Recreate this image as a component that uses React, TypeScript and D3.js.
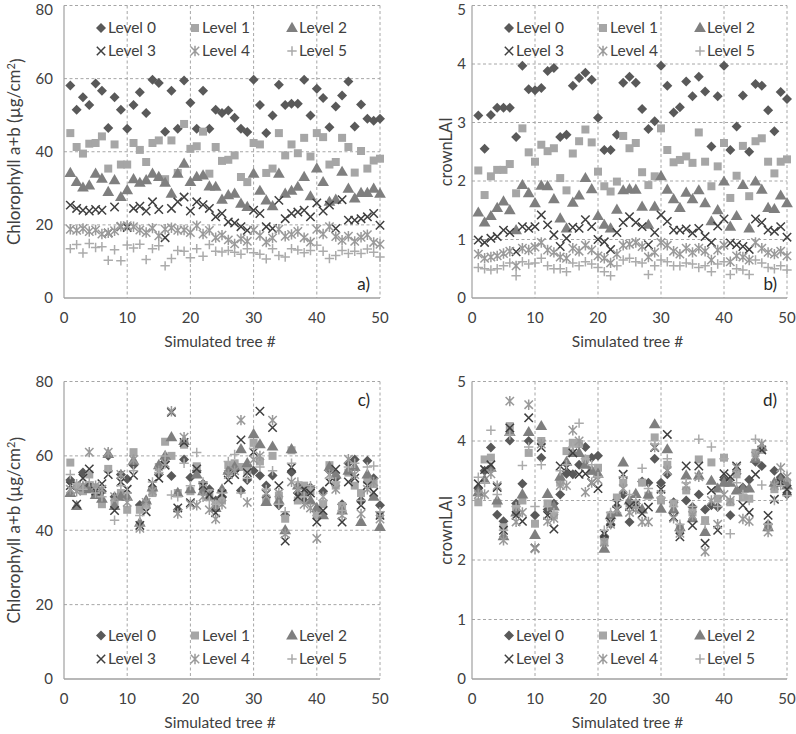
import React from 'react';
import * as d3 from 'd3';

// Simulated tree index, 1..50
const TREES = [
  1, 2, 3, 4, 5, 6, 7, 8, 9, 10, 11, 12, 13, 14, 15, 16, 17, 18, 19, 20, 21, 22, 23, 24, 25,
  26, 27, 28, 29, 30, 31, 32, 33, 34, 35, 36, 37, 38, 39, 40, 41, 42, 43, 44, 45, 46, 47, 48, 49, 50,
];
const LEVELS = ['Level 0', 'Level 1', 'Level 2', 'Level 3', 'Level 4', 'Level 5'];
const X_TICKS = [0, 10, 20, 30, 40, 50];
const CHL_TICKS = [0, 20, 40, 60, 80];
const LAI_TICKS = [0, 1, 2, 3, 4, 5];

// a) chlorophyll, per level
const A0 = [58.1, 51.5, 54.9, 52.8, 58.7, 56.7, 46.5, 54.9, 51.5, 46.3, 52.8, 56.3, 50.6, 59.7, 58.8, 45.5, 56.7, 46.3, 59.5, 53.4, 46.3, 56.7, 46.3, 51.5, 50.6, 51.3, 49.3, 46.3, 45.4, 59.7, 52.8, 45.1, 49.9, 58.3, 52.8, 53.1, 53.1, 59.7, 49.9, 57.2, 54.7, 46.7, 52.4, 55.4, 59.2, 46.9, 52.9, 49, 48.5, 49];
const A1 = [45.1, 41.3, 39.5, 42.2, 42.4, 44.2, 35.4, 42.0, 36.5, 36.5, 42.4, 40.5, 37.2, 42.4, 43.1, 32.5, 43.1, 34.2, 47.6, 40.8, 41.5, 45.5, 34, 41.3, 37.5, 37.8, 39, 33.1, 31.7, 42.4, 42, 34.2, 35.4, 45.1, 39, 42, 39.6, 43.8, 38.7, 45.1, 44, 36.5, 37.2, 43.8, 41.3, 34.3, 40.2, 35.4, 37.6, 38.1];
const A2 = [34.2, 31.7, 30.2, 30.8, 34, 32.6, 29, 32.2, 27.6, 29.5, 32.5, 31.5, 32.2, 34, 33.1, 31.5, 28.5, 34, 36.7, 31.7, 33.1, 33.5, 30.5, 30.4, 26.9, 28.1, 28.5, 25.8, 24.9, 34, 29.3, 26.7, 25.1, 34, 28.5, 29.3, 30.4, 33.1, 27.8, 35.4, 31.7, 26.3, 26.9, 34.5, 29.9, 27.2, 28.7, 28.7, 29.9, 28.5];
const A3 = [25.4, 24.5, 24, 23.8, 24.2, 24, 17.8, 24.9, 19.5, 19.3, 24.5, 25.1, 23.8, 26.3, 24.2, 16.5, 24.5, 26.3, 27.6, 23.8, 26.3, 25.5, 24.5, 22.2, 23.1, 20.8, 20.5, 19.5, 18.5, 24, 23.1, 19.5, 19, 26.7, 21.7, 23.1, 23.5, 24, 22.2, 26, 23.8, 25.4, 19, 26.9, 21.3, 21.3, 21.7, 22.2, 23.1, 19.9];
const A4 = [18.8, 18.5, 19, 18.2, 18.6, 17.5, 17.8, 18.4, 19.6, 19.8, 19.5, 18.6, 17.9, 19.1, 17, 18.8, 19.2, 18.5, 18.6, 17.9, 19.8, 17.5, 18.5, 16.5, 17.2, 15.9, 14.8, 16.2, 15.5, 18.6, 17.1, 15.3, 16.4, 18.8, 16.9, 17.4, 18.2, 16.5, 15.3, 18.8, 17.5, 19.5, 16.8, 15.8, 16.9, 15.5, 16.6, 17.3, 15.2, 14.7];
const A5 = [13.5, 14.6, 12.3, 14.9, 13.8, 14.0, 10.3, 13.2, 10.2, 14.5, 13.7, 14.7, 10.5, 13.5, 14.3, 8.8, 10.8, 13.0, 12.8, 11.0, 13.5, 11.4, 14.6, 12.8, 12.6, 13.0, 12.5, 12.0, 13.5, 12.4, 12.0, 10.7, 13.5, 11.6, 11.2, 13.5, 13.1, 12.4, 13.0, 14.4, 12.8, 10.8, 11.6, 13.0, 12.2, 12.8, 12.2, 13.4, 12.5, 11.2];

// b) crownLAI, per level
const B0 = [3.12, 2.55, 3.13, 3.25, 3.25, 3.25, 2.75, 3.97, 3.57, 3.55, 3.59, 3.88, 3.93, 2.75, 2.79, 3.63, 3.76, 3.85, 3.73, 3.08, 2.53, 2.53, 2.79, 3.68, 3.78, 3.68, 3.23, 2.89, 3.02, 3.97, 3.63, 3.17, 3.26, 3.7, 3.45, 3.78, 3.53, 2.59, 3.45, 3.97, 2.53, 2.93, 3.46, 2.5, 3.66, 3.63, 3.21, 2.85, 3.52, 3.4];
const B1 = [2.18, 1.76, 2.08, 2.19, 2.19, 2.29, 1.79, 2.9, 2.49, 2.33, 2.62, 2.51, 2.56, 2.05, 1.84, 2.47, 2.68, 2.88, 2.66, 2.16, 1.91, 1.82, 1.99, 2.77, 2.56, 2.65, 2.15, 1.93, 2.08, 2.9, 2.53, 2.32, 2.36, 2.42, 2.31, 2.83, 2.33, 1.91, 2.25, 2.65, 1.71, 2.09, 2.6, 1.74, 2.68, 2.73, 2.33, 2.13, 2.33, 2.37];
const B2 = [1.46, 1.29, 1.4, 1.54, 1.65, 1.5, 1.16, 1.93, 1.79, 1.62, 1.92, 1.91, 1.69, 1.36, 1.19, 1.63, 1.75, 2.05, 1.86, 1.4, 1.25, 1.19, 1.51, 1.84, 1.86, 1.85, 1.56, 1.25, 1.56, 2.08, 1.85, 1.69, 1.54, 1.8, 1.69, 1.84, 1.62, 1.31, 1.5, 1.99, 1.22, 1.4, 1.93, 1.19, 1.99, 1.85, 1.54, 1.52, 1.75, 1.62];
const B3 = [0.99, 0.95, 1.02, 1.05, 1.16, 1.12, 0.79, 1.22, 1.19, 1.22, 1.42, 1.25, 1.08, 0.88, 1.02, 1.21, 1.19, 1.34, 1.22, 1.0, 0.96, 0.83, 1.12, 1.29, 1.39, 1.29, 1.22, 0.91, 1.12, 1.42, 1.31, 1.16, 1.16, 1.18, 1.11, 1.19, 1.05, 0.95, 1.23, 1.35, 0.94, 0.91, 0.88, 0.83, 1.35, 1.29, 1.16, 1.14, 1.22, 1.04];
const B4 = [0.75, 0.68, 0.7, 0.72, 0.76, 0.8, 0.55, 0.85, 0.82, 0.87, 0.95, 0.82, 0.78, 0.7, 0.68, 0.85, 0.8, 0.9, 0.82, 0.72, 0.68, 0.6, 0.75, 0.9, 0.92, 0.95, 0.88, 0.7, 0.78, 0.95, 0.9, 0.8, 0.75, 0.85, 0.78, 0.85, 0.8, 0.65, 0.82, 0.9, 0.62, 0.72, 0.7, 0.65, 0.95, 0.85, 0.78, 0.75, 0.8, 0.72];
const B5 = [0.52, 0.5, 0.48, 0.5, 0.55, 0.6, 0.38, 0.62, 0.58, 0.6, 0.68, 0.55, 0.5, 0.5, 0.45, 0.6, 0.55, 0.62, 0.58, 0.52, 0.45, 0.38, 0.55, 0.65, 0.68, 0.62, 0.6, 0.4, 0.55, 0.65, 0.62, 0.55, 0.55, 0.6, 0.58, 0.52, 0.55, 0.45, 0.58, 0.62, 0.4, 0.5, 0.48, 0.4, 0.65, 0.6, 0.52, 0.5, 0.55, 0.48];

// c) chlorophyll, per level
const C0 = [53.5, 51.5, 55.5, 52, 51, 50.5, 60, 49, 55, 53.8, 57.5, 46.8, 47.5, 51, 55, 58.5, 54.6, 45.5, 59, 54.2, 56, 52.5, 51, 48, 49, 55.5, 56, 50.7, 53.5, 56, 54.7, 52, 54.7, 46.7, 44, 55.6, 50, 48, 51.5, 45, 50.5, 56, 54, 47, 58, 59, 48, 58.7, 54, 46.7];
const C1 = [58.2, 52, 50.5, 55, 51.5, 47, 56.5, 47.5, 50, 45.5, 61, 45.5, 47, 50, 57, 63.8, 60, 50, 63, 50.5, 57.2, 51.5, 50, 47, 48, 57.5, 58, 57, 56, 63.5, 58.5, 48.5, 60, 49.3, 43.1, 61.5, 48, 52, 50.5, 44, 47, 57.5, 52, 46.5, 55.5, 52, 50, 53.5, 52.4, 44];
const C2 = [50, 46.5, 51.5, 51, 49.5, 48.5, 60.5, 46.5, 49, 49, 58.7, 42, 48, 51.5, 57.5, 60, 65, 50, 64, 51, 55, 50.5, 49, 46, 51, 56, 57, 61.8, 58, 65.8, 63.1, 47.6, 62.5, 48, 40, 61.8, 52, 50, 48, 46, 44, 57, 55, 45.3, 56, 57, 42.2, 55, 49, 40.9];
const C3 = [52, 47, 54, 56.5, 50.5, 52.5, 55, 45.3, 53, 51, 54.8, 41.3, 45, 52.6, 54, 57.5, 71.7, 46, 63.6, 47.4, 56.5, 52, 49.5, 44.7, 49.8, 53.5, 55, 64.3, 55.5, 61, 72, 49.8, 67.6, 52, 37.1, 56.9, 49, 51, 50, 42.2, 45.3, 53, 56.4, 42.2, 53, 54, 46.7, 52, 50.2, 44];
const C4 = [51, 50.5, 52, 61, 52, 51, 61, 49, 55, 47.5, 59, 40.5, 47.5, 50.5, 56, 58, 72, 44.5, 65, 47, 46.7, 49, 45.5, 43, 47, 55, 56, 69.6, 47.5, 59, 60, 50, 69.6, 50, 39, 53, 51, 47, 46, 37.8, 49, 55, 51, 44, 59.1, 55, 44.4, 51, 53, 43];
const C5 = [55, 52.5, 51, 53, 50, 49, 56, 42.7, 52, 50, 56, 44, 46, 53, 55.5, 60, 49.5, 49, 58, 52, 60.9, 53, 48, 47, 50, 58.5, 60.4, 50, 54, 62, 57, 51, 56, 47, 45, 58, 53, 49, 52, 44, 48, 54, 53, 45.3, 57, 58, 48, 57, 57.3, 45];

// d) crownLAI, per level
const D0 = [3.2, 3.5, 3.89, 2.76, 2.65, 4.01, 2.95, 3.28, 4.0, 2.75, 3.72, 2.85, 2.95, 3.1, 3.45, 3.44, 3.6, 3.9, 3.72, 3.75, 2.4, 2.6, 2.9, 3.1, 2.64, 2.95, 3.32, 3.3, 3.7, 3.3, 3.44, 2.97, 2.5, 3.0, 2.89, 3.1, 2.85, 2.92, 2.89, 3.35, 2.75, 3.45, 3.22, 3.35, 3.65, 3.58, 2.6, 3.5, 3.39, 3.1];
const D1 = [2.97, 3.69, 3.72, 2.95, 2.55, 4.25, 2.86, 3.0, 3.8, 2.61, 4.0, 2.95, 2.75, 3.3, 3.83, 3.97, 3.95, 3.7, 3.5, 3.55, 2.3, 2.75, 3.05, 3.3, 2.95, 2.92, 3.3, 3.08, 4.06, 3.0, 3.6, 2.95, 2.53, 3.17, 2.8, 3.69, 2.67, 3.64, 3.03, 3.72, 2.97, 3.44, 3.05, 3.03, 3.8, 3.85, 2.55, 3.19, 3.3, 3.3];
const D2 = [3.14, 3.35, 3.55, 3.0, 2.4, 4.15, 2.8, 3.1, 4.15, 2.42, 4.25, 3.11, 2.9, 3.4, 3.65, 3.8, 3.8, 3.6, 3.5, 3.45, 2.19, 2.75, 2.8, 3.64, 3.0, 3.11, 2.85, 3.1, 4.28, 2.86, 3.86, 2.85, 2.55, 3.42, 2.7, 3.42, 2.47, 3.33, 3.2, 3.3, 3.3, 3.17, 3.2, 3.2, 3.7, 3.9, 2.55, 3.3, 3.35, 3.25];
const D3 = [3.28, 3.52, 3.6, 3.22, 2.5, 4.22, 2.75, 2.65, 4.39, 2.2, 3.89, 2.75, 2.52, 3.58, 3.55, 3.8, 3.44, 3.45, 3.3, 3.2, 2.44, 2.64, 2.95, 3.44, 2.9, 2.95, 2.78, 2.89, 3.89, 3.19, 4.11, 2.72, 2.39, 3.58, 2.58, 3.58, 2.28, 3.17, 2.5, 3.45, 3.4, 3.58, 2.92, 2.8, 3.44, 3.85, 2.75, 3.02, 3.3, 3.19];
const D4 = [3.1, 3.1, 3.45, 3.25, 2.33, 4.67, 2.64, 2.8, 4.61, 2.19, 3.95, 2.65, 2.7, 3.25, 3.25, 4.18, 4.0, 3.14, 3.3, 3.35, 2.3, 2.6, 2.85, 3.2, 2.8, 2.85, 2.64, 2.64, 3.9, 3.1, 3.5, 2.7, 2.45, 3.25, 2.75, 3.4, 2.14, 3.0, 2.6, 3.1, 3.0, 3.55, 2.69, 2.65, 3.75, 3.95, 2.47, 3.25, 3.55, 3.4];
const D5 = [3.39, 3.3, 4.18, 3.1, 2.5, 4.1, 2.9, 3.59, 3.9, 2.9, 3.6, 2.9, 2.8, 3.5, 3.6, 3.9, 4.3, 3.7, 3.6, 3.4, 2.5, 2.8, 3.0, 3.4, 3.1, 3.0, 3.54, 3.2, 3.95, 3.05, 3.7, 2.9, 2.6, 3.3, 2.9, 4.03, 2.6, 3.9, 2.9, 3.7, 2.44, 3.3, 3.1, 3.0, 4.03, 3.26, 2.6, 3.0, 3.25, 3.08];

const FONT = 'Lato, "Open Sans", sans-serif';
const INK = '#404040';
const GRID = '#a6a6a6';
const AXIS = '#a0a0a0';

type Marker = 'diamond' | 'square' | 'triangle' | 'x' | 'asterisk' | 'plus';
const MARKERS: { shape: Marker; color: string }[] = [
  { shape: 'diamond', color: '#595959' },
  { shape: 'square', color: '#a6a6a6' },
  { shape: 'triangle', color: '#7f7f7f' },
  { shape: 'x', color: '#3f3f3f' },
  { shape: 'asterisk', color: '#9a9a9a' },
  { shape: 'plus', color: '#ababab' },
];

const squarePath = d3.symbol(d3.symbolSquare, 64)() as string;
const diamondPath = d3.symbol(d3.symbolSquare, 50)() as string;
const trianglePath = d3.symbol(d3.symbolTriangle, 60)() as string;

function Glyph({ shape, color, x, y }: { shape: Marker; color: string; x: number; y: number }) {
  const t = `translate(${x},${y})`;
  const r = 4.2;
  if (shape === 'diamond') return <path d={diamondPath} transform={`${t} rotate(45)`} fill={color} />;
  if (shape === 'square') return <path d={squarePath} transform={t} fill={color} />;
  if (shape === 'triangle') return <path d={trianglePath} transform={`${t} translate(0,0.6)`} fill={color} />;
  let d = '';
  if (shape === 'x') d = `M${-r},${-r}L${r},${r}M${-r},${r}L${r},${-r}`;
  if (shape === 'plus') d = `M${-r - 0.5},0L${r + 0.5},0M0,${-r - 0.5}L0,${r + 0.5}`;
  if (shape === 'asterisk') d = `M${-r},${-r}L${r},${r}M${-r},${r}L${r},${-r}M0,${-r - 1}L0,${r + 1}`;
  return <path d={d} transform={t} fill="none" stroke={color} strokeWidth={1.5} />;
}

type PanelProps = {
  series: number[][];
  yMax: number;
  yTicks: number[];
  yTitle: React.ReactNode;
  titleSize: number;
  tag: string;
  x0: number;
  x1: number;
  y0: number;
  y1: number;
  titleX: number;
  tickGap: number;
  legendTop: boolean;
};

function Panel({ series, yMax, yTicks, yTitle, titleSize, tag, x0, x1, y0, y1, titleX, tickGap, legendTop }: PanelProps) {
  const x = d3.scaleLinear().domain([0, 50]).range([x0, x1]);
  const y = d3.scaleLinear().domain([0, yMax]).range([y1, y0]);
  const rows = legendTop ? [y0 + 22.5, y0 + 45.5] : [y1 - 43.5, y1 - 20];
  const cols = [37, 131, 228].map((c) => x0 + c);
  const midY = (y0 + y1) / 2;

  return (
    <g fontFamily={FONT}>
      {/* grid */}
      {yTicks.filter((t) => t > 0).map((t) => (
        <line key={`gy${t}`} x1={x0} x2={x1} y1={y(t)} y2={y(t)} stroke={GRID} strokeDasharray="3,2.5" />
      ))}
      {X_TICKS.filter((t) => t > 0).map((t) => (
        <line key={`gx${t}`} x1={x(t)} x2={x(t)} y1={y0} y2={y1} stroke={GRID} strokeDasharray="3,2.5" />
      ))}
      <line x1={x0} x2={x0} y1={y0} y2={y1} stroke={AXIS} strokeWidth={1.2} />
      <line x1={x0} x2={x1} y1={y1} y2={y1} stroke={AXIS} strokeWidth={1.6} />

      {/* tick labels */}
      {yTicks.map((t) => (
        <text key={`ty${t}`} x={x0 - tickGap} y={Math.max(y(t), 10)} dy="0.35em" textAnchor="end" fontSize={15} fill={INK}>
          {t}
        </text>
      ))}
      {X_TICKS.map((t) => (
        <text key={`tx${t}`} x={x(t)} y={y1 + 20} dy="0.35em" textAnchor="middle" fontSize={15} fill={INK}>
          {t}
        </text>
      ))}
      <text x={(x0 + x1) / 2 - 2} y={y1 + 44} dy="0.35em" textAnchor="middle" fontSize={15.5} fill={INK}>
        Simulated tree #
      </text>
      <text transform={`translate(${titleX},${midY}) rotate(-90)`} textAnchor="middle" dy="0.35em" fontSize={titleSize} fill={INK}>
        {yTitle}
      </text>

      {/* points */}
      {series.map((vals, s) => (
        <g key={`s${s}`}>
          {vals.map((v, i) => (
            <Glyph key={i} shape={MARKERS[s].shape} color={MARKERS[s].color} x={x(TREES[i])} y={y(v)} />
          ))}
        </g>
      ))}

      {/* legend */}
      {LEVELS.map((name, s) => {
        const cx = cols[s % 3];
        const cy = rows[Math.floor(s / 3)];
        return (
          <g key={name}>
            <Glyph shape={MARKERS[s].shape} color={MARKERS[s].color} x={cx} y={cy} />
            <text x={cx + 7} y={cy} dy="0.35em" fontSize={15.5} fill={INK}>
              {name}
            </text>
          </g>
        );
      })}

      <text x={x1 - 10} y={legendTop ? y1 - 14 : y0 + 19} dy="0.35em" textAnchor="end" fontSize={17} fill="#262626">
        {tag}
      </text>
    </g>
  );
}

const chlTitle = (
  <>
    Chlorophyll a+b (µg/cm<tspan dy="-0.45em" fontSize={11}>2</tspan>
    <tspan dy="0.45em">)</tspan>
  </>
);

export default function App() {
  const top = { y0: 5.5, y1: 298 };
  const bot = { y0: 381.5, y1: 679 };
  const left = { x0: 64, x1: 380, titleX: 14, tickGap: 11, titleSize: 17 };
  const right = { x0: 472, x1: 787, titleX: 446, tickGap: 6, titleSize: 16.5 };
  return (
    <div style={{ position: 'absolute', left: 0, top: 0 }}>
      <svg width={796} height={734} style={{ display: 'block', background: '#fff' }}>
        <Panel series={[A0, A1, A2, A3, A4, A5]} yMax={80} yTicks={CHL_TICKS} yTitle={chlTitle} tag="a)"
          {...left} {...top} legendTop />
        <Panel series={[B0, B1, B2, B3, B4, B5]} yMax={5} yTicks={LAI_TICKS} yTitle="crownLAI" tag="b)"
          {...right} {...top} legendTop />
        <Panel series={[C0, C1, C2, C3, C4, C5]} yMax={80} yTicks={CHL_TICKS} yTitle={chlTitle} tag="c)"
          {...left} {...bot} legendTop={false} />
        <Panel series={[D0, D1, D2, D3, D4, D5]} yMax={5} yTicks={LAI_TICKS} yTitle="crownLAI" tag="d)"
          {...right} {...bot} legendTop={false} />
      </svg>
    </div>
  );
}
